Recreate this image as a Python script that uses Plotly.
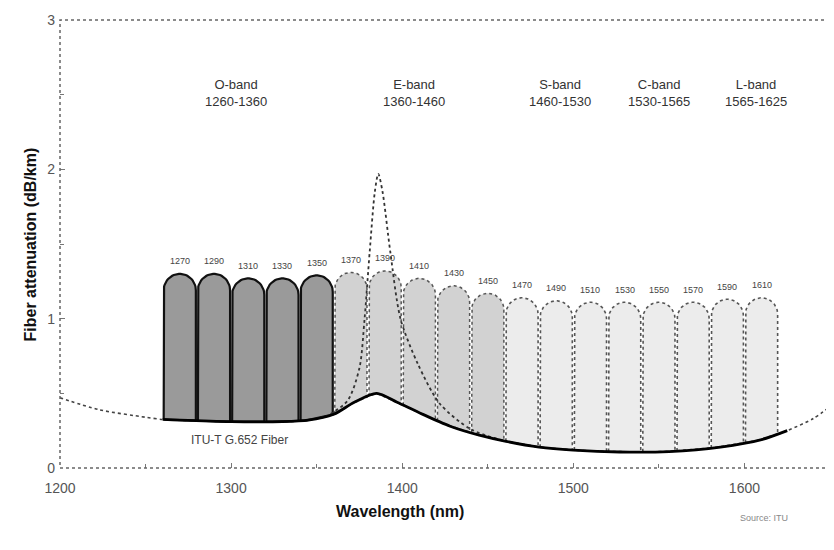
import numpy as np
import plotly.graph_objects as go

# ---------------- data ----------------
channel_wl = [1270, 1290, 1310, 1330, 1350, 1370, 1390, 1410, 1430,
              1450, 1470, 1490, 1510, 1530, 1550, 1570, 1590, 1610]
channel_top = [1.30, 1.30, 1.27, 1.27, 1.29, 1.31, 1.32, 1.27, 1.22,
               1.17, 1.14, 1.12, 1.11, 1.11, 1.11, 1.11, 1.13, 1.14]
channel_labels = [str(c) for c in channel_wl]

fiber_wl = [1200, 1223, 1250, 1260, 1270, 1300, 1330, 1345, 1360, 1372, 1385,
            1397, 1410, 1428, 1445, 1460, 1480, 1500, 1527, 1556, 1586,
            1610, 1625, 1640, 1650]
fiber_att = [0.47, 0.39, 0.34, 0.325, 0.32, 0.31, 0.31, 0.32, 0.36, 0.44, 0.50,
             0.44, 0.37, 0.28, 0.22, 0.18, 0.14, 0.12, 0.107, 0.11, 0.14,
             0.19, 0.25, 0.33, 0.41]

peak_wl = [1355, 1368, 1375, 1378, 1381, 1384, 1386, 1388.5, 1393, 1399,
           1409, 1422, 1440, 1460]
peak_att = [0.34, 0.45, 0.67, 1.0, 1.45, 1.85, 1.97, 1.85, 1.45, 1.0,
            0.70, 0.43, 0.26, 0.18]

band_names = ["O-band", "E-band", "S-band", "C-band", "L-band"]
band_ranges = ["1260-1360", "1360-1460", "1460-1530", "1530-1565", "1565-1625"]
band_label_wl = [1303, 1407, 1492, 1550, 1607]

x_ticks = [1200, 1300, 1400, 1500, 1600]
y_ticks = [0, 1, 2, 3]

# ---------------- figure ----------------
fig = go.Figure()

fw = np.array(fiber_wl, float)
fa = np.array(fiber_att, float)

def base(x):
    return np.interp(x, fw, fa)

hw = 9.4      # half width of a channel (nm)
cap = 0.11    # height of the rounded cap

for c, top in zip(channel_wl, channel_top):
    xl, xr = c - hw, c + hw
    t = np.linspace(np.pi, 0, 30)
    xs = [xl] + list(c + hw * np.cos(t)) + [xr]
    ys = [float(base(xl))] + list((top - cap) + cap * np.sin(t)) + [float(base(xr))]
    xb = np.linspace(xr, xl, 12)
    xs += list(xb)
    ys += list(base(xb))
    if c <= 1350:
        fill, lc, lw, dash = "#9a9a9a", "#111111", 2.2, "solid"
    elif c <= 1450:
        fill, lc, lw, dash = "#d2d2d2", "#555555", 1.5, "dot"
    else:
        fill, lc, lw, dash = "#ececec", "#555555", 1.6, "dot"
    fig.add_trace(go.Scatter(x=xs, y=ys, mode="lines", fill="toself",
                             fillcolor=fill,
                             line=dict(color=lc, width=lw, dash=dash),
                             hoverinfo="skip", showlegend=False))

# water peak (older fibre) dotted
fig.add_trace(go.Scatter(x=peak_wl, y=peak_att, mode="lines",
                         line=dict(color="#333333", width=1.8, dash="dot",
                                   shape="spline", smoothing=0.8),
                         showlegend=False, hoverinfo="skip"))

# fibre curve: dashed outside the channel span, solid inside
fig.add_trace(go.Scatter(x=fiber_wl, y=fiber_att, mode="lines",
                         line=dict(color="#444444", width=1.6, dash="dot",
                                   shape="spline", smoothing=0.8),
                         showlegend=False, hoverinfo="skip"))
mask = (fw >= 1260) & (fw <= 1625)
fig.add_trace(go.Scatter(x=fw[mask], y=fa[mask], mode="lines",
                         line=dict(color="#000000", width=2.8,
                                   shape="spline", smoothing=0.8),
                         showlegend=False, hoverinfo="skip"))

annotations = []
for c, top, lab in zip(channel_wl, channel_top, channel_labels):
    annotations.append(dict(x=c, y=top + 0.085, text=lab, showarrow=False,
                            font=dict(size=9, color="#444444")))
for wl, nm, rg in zip(band_label_wl, band_names, band_ranges):
    annotations.append(dict(x=wl, y=2.51, text=nm + "<br>" + rg, showarrow=False,
                            font=dict(size=13, color="#333333")))
annotations.append(dict(x=1305, y=0.19, text="ITU-T G.652 Fiber", showarrow=False,
                        font=dict(size=12, color="#444444")))
annotations.append(dict(xref="paper", yref="paper", x=-0.052, y=0.5,
                        text="<b>Fiber attenuation (dB/km)</b>", textangle=-90,
                        showarrow=False, font=dict(size=16, color="#111111")))
annotations.append(dict(xref="paper", yref="paper", x=0.4416, y=-0.12,
                        text="<b>Wavelength (nm)</b>", showarrow=False,
                        font=dict(size=16, color="#111111")))
annotations.append(dict(xref="paper", yref="paper", x=0.948, y=-0.127,
                        text="Source: ITU", showarrow=False,
                        font=dict(size=9, color="#888888")))

fig.update_layout(
    width=826, height=542,
    margin=dict(l=52, r=4, t=10, b=82),
    paper_bgcolor="white", plot_bgcolor="white",
    font=dict(family="Liberation Sans, Arial, sans-serif"),
    annotations=annotations,
    shapes=[dict(type="rect", xref="x domain", yref="y domain", x0=0, x1=1,
                 y0=0, y1=1, line=dict(color="#666666", width=1.5, dash="dot"))],
    xaxis=dict(range=[1200, 1650], tickvals=x_ticks, showgrid=False,
               zeroline=False, showline=False, ticks="inside", ticklen=5,
               tickcolor="#777777", ticklabelstandoff=10,
               tickfont=dict(size=14, color="#555555"),
               minor=dict(ticks="inside", ticklen=4, dtick=50, tickcolor="#777777",
                          showgrid=False)),
    yaxis=dict(range=[0, 3], tickvals=y_ticks, showgrid=False, zeroline=False,
               showline=False, ticks="inside", ticklen=5, tickcolor="#777777",
               ticklabelstandoff=4,
               tickfont=dict(size=14, color="#555555"),
               minor=dict(ticks="inside", ticklen=4, dtick=0.5, tickcolor="#777777",
                          showgrid=False)),
)

fig.write_html("out.html")
